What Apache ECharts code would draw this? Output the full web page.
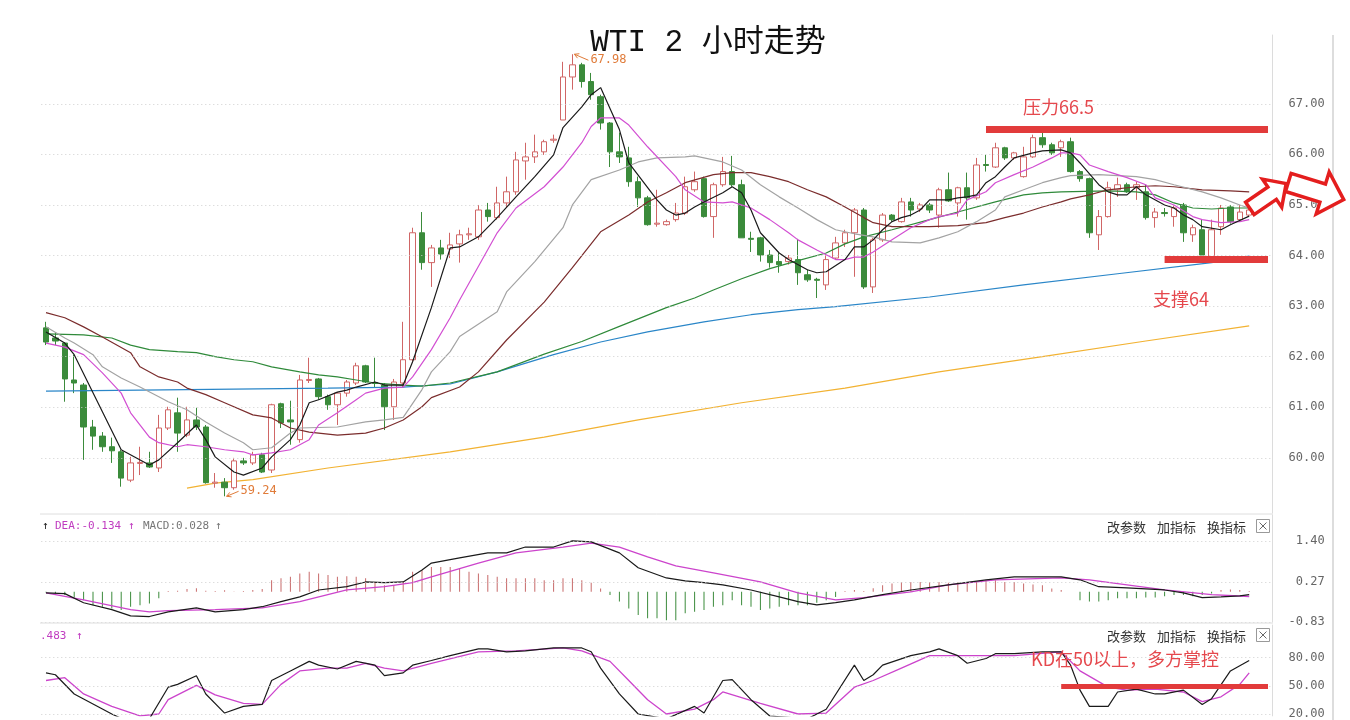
<!DOCTYPE html>
<html><head><meta charset="utf-8">
<script src="https://cdn.jsdelivr.net/npm/echarts@6.0.0/dist/echarts.min.js"></script>
<style>html,body{margin:0;padding:0;background:#fff}#c{width:1350px;height:720px}</style>
</head><body><div id="c"></div>
<script>
const categories = Array.from({length: 131}, (_, i) => 'c' + i);
// [open, close, low, high]
const candles = [
[62.57,62.29,62.23,62.69],[62.37,62.31,62.23,62.47],[62.27,61.56,61.11,62.29],[61.54,61.48,61.28,62.04],[61.44,60.61,59.96,61.48],
[60.61,60.43,60.16,60.75],[60.43,60.22,60.12,60.51],[60.22,60.14,59.90,60.40],[60.12,59.60,59.43,60.16],[59.56,59.90,59.52,60.02],
[59.89,59.91,59.66,60.22],[59.90,59.82,59.80,60.12],[59.80,60.59,59.72,60.85],[60.59,60.95,60.55,61.01],[60.89,60.49,60.12,61.19],
[60.45,60.75,60.41,61.01],[60.75,60.61,60.55,60.99],[60.61,59.51,59.49,60.65],[59.50,59.52,59.41,59.70],[59.52,59.41,59.24,59.60],
[59.41,59.94,59.37,60.00],[59.94,59.90,59.86,60.00],[59.90,60.06,59.86,60.12],[60.06,59.72,59.70,60.10],[59.76,61.05,59.70,61.07],
[61.07,60.69,60.59,61.09],[60.75,60.71,60.26,61.13],[60.36,61.54,60.30,61.64],[61.53,61.55,61.48,61.98],[61.56,61.21,61.15,61.58],
[61.21,61.05,60.95,61.25],[61.05,61.28,60.65,61.30],[61.28,61.50,61.21,61.54],[61.48,61.82,61.44,61.88],[61.82,61.50,61.48,61.84],
[61.49,61.47,61.40,61.98],[61.44,61.01,60.55,61.48],[61.01,61.50,60.75,61.56],[61.48,61.94,61.40,62.69],[61.94,64.45,61.90,64.55],
[64.45,63.86,63.72,64.86],[63.86,64.15,63.38,64.21],[64.15,64.03,63.92,64.31],[64.13,64.21,63.95,64.45],[64.23,64.41,63.86,64.51],
[64.41,64.43,64.31,64.55],[64.37,64.90,64.31,65.00],[64.90,64.77,64.67,65.04],[64.75,65.04,64.71,65.36],[65.04,65.26,64.96,65.56],
[65.26,65.89,65.20,66.05],[65.87,65.95,65.50,66.23],[65.95,66.05,65.83,66.39],[66.05,66.25,65.99,66.29],[66.28,66.30,66.23,66.39],
[66.68,67.53,66.68,67.83],[67.53,67.77,67.28,67.98],[67.77,67.44,67.32,67.81],[67.44,67.18,67.08,67.61],[67.14,66.62,66.49,67.18],
[66.62,66.05,65.75,66.64],[66.05,65.95,65.83,66.43],[65.93,65.46,65.36,66.15],[65.46,65.14,64.96,65.56],[65.14,64.61,64.59,65.18],
[64.62,64.64,64.57,65.30],[64.61,64.67,64.59,64.71],[64.71,64.84,64.67,65.04],[64.84,65.36,64.80,65.56],[65.30,65.46,65.26,65.66],
[65.52,64.77,64.75,65.56],[64.77,65.40,64.35,65.44],[65.40,65.66,65.36,65.95],[65.66,65.40,65.36,65.97],[65.40,64.35,64.35,65.50],
[64.34,64.32,64.07,64.47],[64.35,64.01,63.88,64.37],[64.01,63.86,63.76,64.11],[63.88,63.82,63.66,64.05],[63.88,63.95,63.82,64.01],
[63.92,63.66,63.42,64.33],[63.62,63.52,63.48,63.72],[63.53,63.51,63.16,63.56],[63.42,63.92,63.32,64.03],[63.95,64.25,63.92,64.37],
[64.25,64.45,64.17,64.51],[64.45,64.90,63.58,64.94],[64.90,63.38,63.34,64.94],[63.38,64.31,63.26,64.35],[64.31,64.80,64.27,64.84],
[64.80,64.71,64.67,64.82],[64.67,65.06,64.65,65.14],[65.06,64.90,64.77,65.14],[64.92,65.00,64.86,65.04],[65.00,64.90,64.84,65.04],
[64.80,65.30,64.55,65.34],[65.30,65.08,65.06,65.64],[65.04,65.34,64.77,65.36],[65.34,65.14,64.71,65.64],[65.14,65.79,65.10,65.93],
[65.80,65.78,65.66,65.99],[65.75,66.13,65.73,66.23],[66.13,65.93,65.89,66.15],[65.93,66.03,65.89,66.05],[65.56,65.95,65.54,66.15],
[65.95,66.33,65.93,66.39],[66.33,66.19,66.13,66.45],[66.19,66.03,65.99,66.23],[66.13,66.25,65.95,66.29],[66.25,65.66,65.64,66.33],
[65.66,65.52,65.46,65.69],[65.52,64.45,64.35,65.54],[64.41,64.77,64.11,64.90],[64.77,65.34,64.75,65.46],[65.30,65.40,65.16,65.54],
[65.40,65.26,65.24,65.44],[65.34,65.40,65.10,65.46],[65.26,64.75,64.71,65.40],[64.75,64.86,64.55,64.94],[64.85,64.83,64.77,64.94],
[64.77,64.94,64.57,65.00],[65.00,64.45,64.27,65.04],[64.41,64.55,64.27,64.61],[64.51,64.01,63.95,64.71],[63.97,64.51,63.88,64.71],
[64.57,64.94,64.41,65.00],[64.96,64.67,64.63,65.00],[64.71,64.86,64.67,65.00],[64.80,64.90,64.77,65.06]
];
const ma5 = [[0,62.49],[2,62.27],[3,62.04],[8,60.16],[11,59.86],[12,59.96],[14,60.30],[16,60.65],[17,60.36],[18,60.02],[20,59.72],[21,59.66],[23,59.80],[24,60.02],[26,60.36],[27,60.65],[28,61.09],[29,61.15],[31,61.30],[32,61.34],[33,61.40],[35,61.50],[36,61.44],[38,61.44],[39,61.90],[41,62.97],[43,64.15],[44,64.17],[46,64.37],[48,64.75],[50,65.16],[52,65.56],[54,65.99],[55,66.53],[57,66.94],[58,67.18],[59,67.32],[61,66.49],[62,65.83],[65,65.10],[66,64.90],[67,64.80],[68,64.84],[69,64.96],[70,65.06],[72,65.24],[73,65.36],[74,65.24],[75,64.90],[76,64.45],[78,64.05],[79,63.92],[81,63.72],[82,63.66],[83,63.68],[85,63.92],[86,64.17],[87,64.17],[88,64.31],[89,64.51],[90,64.67],[91,64.75],[92,64.80],[93,64.90],[94,65.10],[96,65.10],[97,65.14],[98,65.16],[99,65.20],[100,65.44],[101,65.56],[102,65.75],[103,65.93],[105,66.03],[106,66.07],[108,66.09],[109,66.03],[110,65.83],[112,65.40],[113,65.26],[114,65.20],[115,65.20],[116,65.36],[117,65.20],[119,65.00],[120,64.94],[121,64.80],[122,64.71],[123,64.57],[125,64.51],[126,64.61],[128,64.78]];
const ma10 = [[0,62.27],[1,62.23],[2,62.19],[4,62.04],[6,61.68],[8,61.28],[9,60.89],[11,60.41],[12,60.30],[14,60.22],[15,60.26],[17,60.22],[19,60.16],[21,60.12],[22,60.06],[24,60.10],[26,60.16],[28,60.36],[29,60.65],[31,60.89],[33,61.15],[34,61.28],[36,61.38],[38,61.40],[39,61.60],[41,62.14],[43,62.77],[44,63.12],[48,64.45],[50,64.94],[53,65.36],[55,65.75],[57,66.23],[58,66.55],[59,66.72],[61,66.72],[62,66.58],[64,66.15],[67,65.56],[68,65.30],[70,65.06],[72,65.04],[73,65.06],[75,64.94],[77,64.71],[79,64.45],[80,64.31],[82,64.11],[84,63.92],[85,63.92],[86,63.97],[87,63.97],[88,64.07],[90,64.31],[92,64.55],[94,64.71],[95,64.77],[97,64.84],[98,65.10],[100,65.26],[101,65.44],[103,65.60],[105,65.75],[107,65.93],[108,66.03],[109,66.03],[110,65.99],[111,65.79],[113,65.66],[115,65.54],[117,65.40],[118,65.14],[120,65.00],[122,64.77],[123,64.71],[125,64.65],[127,64.67],[128,64.71]];
const ma20 = [[0,62.59],[2,62.37],[3,62.27],[5,62.04],[6,61.80],[8,61.58],[10,61.40],[12,61.21],[13,61.11],[15,60.95],[17,60.71],[19,60.49],[21,60.30],[22,60.16],[24,60.20],[26,60.49],[27,60.59],[31,60.61],[34,60.71],[36,60.75],[38,60.80],[40,61.35],[41,61.70],[43,62.10],[44,62.40],[48,62.89],[49,63.28],[52,63.88],[55,64.55],[56,65.00],[58,65.50],[61,65.69],[63,65.85],[65,65.93],[68,65.95],[69,65.97],[72,65.85],[74,65.69],[76,65.40],[78,65.16],[80,64.94],[82,64.71],[84,64.51],[86,64.43],[88,64.37],[90,64.27],[93,64.25],[95,64.35],[97,64.47],[99,64.67],[101,64.90],[102,65.16],[104,65.30],[106,65.44],[108,65.54],[109,65.58],[112,65.60],[116,65.56],[118,65.50],[120,65.40],[123,65.26],[125,65.14],[127,65.00],[128,64.94]];
const ma30 = [[0,62.87],[2,62.77],[4,62.59],[6,62.39],[9,62.08],[10,61.80],[12,61.60],[14,61.50],[15,61.38],[17,61.25],[19,61.09],[22,60.85],[24,60.79],[26,60.59],[28,60.51],[31,60.45],[34,60.49],[36,60.59],[38,60.75],[40,61.01],[41,61.19],[44,61.40],[46,61.70],[49,62.33],[53,63.08],[56,63.76],[59,64.47],[62,64.80],[64,65.06],[66,65.24],[68,65.44],[71,65.60],[73,65.64],[75,65.64],[77,65.56],[79,65.46],[81,65.30],[83,65.16],[85,64.96],[87,64.75],[88,64.65],[90,64.57],[94,64.57],[97,64.59],[100,64.65],[102,64.75],[104,64.84],[106,64.96],[108,65.06],[109,65.12],[111,65.20],[113,65.30],[116,65.36],[118,65.38],[120,65.36],[123,65.30],[126,65.28],[128,65.26]];
const ma60 = [[0,62.45],[4,62.43],[7,62.37],[9,62.23],[11,62.14],[14,62.10],[16,62.08],[18,62.00],[20,61.94],[22,61.90],[24,61.80],[27,61.70],[29,61.64],[31,61.60],[33,61.54],[35,61.48],[38,61.44],[40,61.42],[43,61.48],[48,61.70],[53,62.05],[57,62.30],[61,62.60],[66,62.97],[69,63.16],[71,63.32],[74,63.54],[77,63.74],[80,63.90],[83,64.05],[85,64.23],[87,64.37],[90,64.51],[94,64.71],[97,64.86],[101,65.06],[104,65.20],[106,65.24],[108,65.26],[113,65.28],[116,65.26],[118,65.20],[120,65.04],[122,64.94],[124,64.92],[126,64.94],[128,64.94]];
const ma120 = [[0,61.32],[10,61.34],[20,61.36],[30,61.38],[38,61.40],[43,61.46],[48,61.70],[54,62.04],[59,62.29],[64,62.49],[70,62.69],[75,62.83],[80,62.93],[84,62.99],[94,63.18],[104,63.42],[114,63.64],[124,63.86],[128,63.99]];
const ma250 = [[15,59.40],[18,59.50],[22,59.57],[30,59.80],[43,60.12],[53,60.41],[63,60.75],[74,61.09],[85,61.38],[95,61.70],[106,62.00],[117,62.31],[128,62.61]];
const macdHist = [
-0.02,-0.05,-0.09,-0.16,-0.23,-0.37,-0.41,-0.46,-0.50,-0.41,
-0.37,-0.32,-0.18,0.02,0.03,0.08,0.10,0.03,0.02,0.04,
0.01,0.02,0.05,0.08,0.32,0.37,0.41,0.50,0.55,0.50,
0.46,0.41,0.43,0.41,0.37,0.27,0.18,0.18,0.27,0.55,
0.59,0.68,0.68,0.68,0.64,0.55,0.50,0.46,0.41,0.37,
0.37,0.37,0.37,0.32,0.32,0.37,0.37,0.32,0.25,0.09,
-0.09,-0.27,-0.46,-0.64,-0.73,-0.73,-0.78,-0.78,-0.59,-0.55,
-0.50,-0.41,-0.37,-0.23,-0.37,-0.41,-0.50,-0.46,-0.41,-0.37,
-0.37,-0.37,-0.30,-0.23,-0.14,0.02,0.05,0.02,0.10,0.18,
0.23,0.27,0.27,0.27,0.27,0.27,0.25,0.27,0.27,0.27,
0.32,0.32,0.27,0.27,0.23,0.20,0.18,0.09,0.05,0.00,
-0.23,-0.27,-0.27,-0.23,-0.18,-0.18,-0.18,-0.16,-0.16,-0.12,
-0.09,-0.09,-0.12,-0.09,-0.05,0.05,0.06,0.05,0.02];
const dif = [[0,-0.03],[2,-0.05],[4,-0.30],[7,-0.49],[9,-0.66],[11,-0.68],[13,-0.55],[16,-0.44],[18,-0.55],[21,-0.49],[23,-0.41],[25,-0.27],[27,-0.14],[29,0.05],[32,0.14],[34,0.27],[36,0.25],[38,0.27],[40,0.60],[41,0.79],[44,0.93],[47,1.07],[49,1.07],[51,1.23],[54,1.23],[56,1.40],[58,1.37],[61,1.07],[63,0.66],[66,0.38],[68,0.30],[70,0.25],[72,0.19],[75,0.05],[78,-0.14],[80,-0.27],[82,-0.36],[84,-0.30],[86,-0.22],[89,-0.08],[92,0.05],[96,0.19],[100,0.33],[103,0.41],[108,0.41],[110,0.33],[112,0.14],[115,0.11],[119,0.05],[121,-0.03],[123,-0.16],[125,-0.14],[127,-0.11],[128,-0.08]];
const dea = [[0,-0.03],[4,-0.22],[9,-0.49],[11,-0.55],[13,-0.52],[18,-0.49],[23,-0.44],[27,-0.27],[32,0.05],[36,0.14],[39,0.25],[41,0.41],[46,0.79],[50,1.07],[55,1.23],[58,1.34],[61,1.23],[64,0.96],[67,0.71],[71,0.52],[76,0.27],[80,-0.03],[84,-0.22],[87,-0.16],[92,0.00],[96,0.19],[101,0.33],[108,0.38],[111,0.33],[115,0.19],[119,0.05],[124,-0.08],[128,-0.13]];
const kLine = [[0,63.7],[1,61.7],[3,41.3],[7,20.0],[9,10.8],[11,14.9],[13,48.5],[14,51.5],[16,60.7],[17,41.3],[19,21.0],[21,28.1],[23,30.2],[24,55.6],[26,65.8],[28,75.9],[29,71.9],[31,67.8],[33,75.9],[35,71.9],[36,60.7],[38,63.7],[39,71.9],[41,76.9],[43,82.0],[46,89.2],[47,89.2],[49,86.1],[51,87.1],[54,90.2],[57,90.2],[58,86.1],[59,68.8],[61,41.3],[63,20.0],[66,14.9],[69,28.1],[70,21.0],[72,55.6],[73,56.6],[75,35.2],[77,17.9],[81,14.9],[83,25.1],[86,71.9],[87,55.6],[88,61.7],[89,71.9],[92,82.0],[94,86.1],[95,89.2],[97,82.0],[98,73.9],[100,79.0],[101,84.1],[103,84.1],[106,86.1],[108,86.1],[109,71.9],[110,45.4],[111,28.1],[113,28.1],[114,43.4],[116,46.4],[118,41.3],[119,41.3],[121,45.4],[123,30.2],[124,36.3],[126,65.8],[128,76.9]];
const dLine = [[0,55.6],[2,58.6],[4,41.3],[7,28.1],[10,17.9],[12,20.0],[13,35.2],[16,50.5],[18,40.3],[21,31.2],[23,30.2],[25,51.5],[27,65.8],[30,68.8],[32,68.8],[34,73.9],[36,68.8],[38,65.8],[41,73.9],[46,86.1],[50,87.1],[55,90.2],[57,87.1],[60,75.9],[62,55.6],[64,35.2],[66,20.0],[69,25.1],[71,35.2],[72,43.4],[76,31.2],[80,20.0],[83,21.0],[86,48.5],[88,55.6],[91,68.8],[94,82.0],[99,82.0],[103,82.0],[108,86.1],[110,65.8],[113,48.5],[115,45.4],[118,46.4],[121,43.4],[123,33.2],[125,38.3],[127,51.5],[128,63.7]];
const priceTicks = [60, 61, 62, 63, 64, 65, 66, 67];
const macdTicks = [-0.83, 0.27, 1.40];
const kdTicks = [20, 50, 80];
const resistance = 66.5, support = 63.92, kdLevel = 50;
const highMark = {idx: 56, value: 67.98}, lowMark = {idx: 19, value: 59.24};

const chart = echarts.init(document.getElementById('c'), null, {renderer: 'canvas'});
const GL = 41.3, GW = 1231.4;
const mono = '"DejaVu Sans Mono", monospace';
const cjk = '"Noto Sans CJK SC", sans-serif';
const RED = '#e23b3b';
function xAx(i) { return {type: 'category', gridIndex: i, data: categories, axisLine: {show: false}, axisTick: {show: false}, axisLabel: {show: false}, splitLine: {show: false}}; }
function yAx(i, min, max, ticks) {
  return {type: 'value', gridIndex: i, position: 'right', min, max, scale: true,
    axisLine: {show: true, lineStyle: {color: '#dcdcdc'}}, axisTick: {show: false}, splitLine: {show: false},
    axisLabel: {customValues: ticks, formatter: v => Number(v).toFixed(2), align: 'right', margin: 52, color: '#666', fontFamily: mono, fontSize: 12}};
}
function grids(ticks) {
  return {silent: true, symbol: ['none', 'none'], label: {show: false}, lineStyle: {color: '#cfcfcf', type: [1, 3], width: 1}, data: ticks.map(v => ({yAxis: v}))};
}
function ma(name, data, color, z) {
  return {name, type: 'line', xAxisIndex: 0, yAxisIndex: 0, data, showSymbol: false, symbol: 'none', z: z || 4, lineStyle: {color, width: 1.2}};
}
const orangeSeries = ma('MA250', ma250, '#f2b232', 2);
orangeSeries.markLine = grids(priceTicks);
const option = {
  animation: false,
  backgroundColor: '#fff',
  grid: [
    {left: GL, width: GW, top: 35, height: 478},
    {left: GL, width: GW, top: 515, height: 107},
    {left: GL, width: GW, top: 625, height: 95}
  ],
  xAxis: [xAx(0), xAx(1), xAx(2)],
  yAxis: [yAx(0, 58.91, 68.36, priceTicks), yAx(1, -0.83, 2.11, macdTicks), yAx(2, 18, 114.6, kdTicks)],
  series: [
    orangeSeries,
    ma('MA120', ma120, '#2a86c8'),
    ma('MA60', ma60, '#2f8a3a'),
    ma('MA30', ma30, '#7b2d2d'),
    ma('MA20', ma20, '#a3a3a3'),
    {type: 'candlestick', xAxisIndex: 0, yAxisIndex: 0, data: candles, barWidth: 6, z: 3,
      itemStyle: {color: '#ffffff', color0: '#3b8b3b', borderColor: '#d06666', borderColor0: '#3b8b3b', borderWidth: 1},
      markLine: {silent: true, symbol: ['none', 'none'], label: {show: false}, lineStyle: {color: RED, width: 7, type: 'solid'},
        data: [[{coord: [100, resistance]}, {coord: [130, resistance]}], [{coord: [119, support]}, {coord: [130, support]}]]}},
    ma('MA10', ma10, '#d24fd2', 5),
    ma('MA5', ma5, '#1a1a1a', 6),
    {type: 'bar', xAxisIndex: 1, yAxisIndex: 1, data: macdHist, barWidth: 1, z: 2,
      itemStyle: {color: p => p.value >= 0 ? '#c86a6a' : '#3b8b3b'}, markLine: grids(macdTicks)},
    {type: 'line', xAxisIndex: 1, yAxisIndex: 1, data: dea, showSymbol: false, symbol: 'none', lineStyle: {color: '#cc44cc', width: 1.3}},
    {type: 'line', xAxisIndex: 1, yAxisIndex: 1, data: dif, showSymbol: false, symbol: 'none', lineStyle: {color: '#1a1a1a', width: 1.2}},
    {type: 'line', xAxisIndex: 2, yAxisIndex: 2, data: dLine, showSymbol: false, symbol: 'none', lineStyle: {color: '#cc44cc', width: 1.3}, markLine: grids(kdTicks)},
    {type: 'line', xAxisIndex: 2, yAxisIndex: 2, data: kLine, showSymbol: false, symbol: 'none', lineStyle: {color: '#1a1a1a', width: 1.2},
      markLine: {silent: true, symbol: ['none', 'none'], label: {show: false}, lineStyle: {color: RED, width: 5, type: 'solid'},
        data: [[{coord: [108, kdLevel]}, {coord: [130, kdLevel]}]]}}
  ]
};
chart.setOption(option);

function txt(x, y, text, font, fill, align) {
  return {type: 'text', x, y, z: 50, style: {text, font, fill, align: align || 'left', verticalAlign: 'middle'}};
}
function line(x1, y1, x2, y2, stroke, w) {
  return {type: 'line', z: 40, shape: {x1, y1, x2, y2}, style: {stroke, lineWidth: w || 1}};
}
function arrow(cx, cy, L, w, H, h, rot) {
  const pts = [[-L/2,-w/2],[L/2-h,-w/2],[L/2-h,-H/2],[L/2,0],[L/2-h,H/2],[L/2-h,w/2],[-L/2,w/2]];
  return {type: 'polygon', x: cx, y: cy, rotation: rot, z: 60, shape: {points: pts}, style: {fill: '#fff', stroke: '#e41e1e', lineWidth: 3.5, lineJoin: 'miter'}};
}
function pointer(p, dx, dy, label) {
  const c = '#e07b39';
  const tip = [p[0] + 2 * Math.sign(dx), p[1]];
  const end = [p[0] + dx, p[1] + dy];
  const ang = Math.atan2(end[1] - tip[1], end[0] - tip[0]);
  const a1 = [tip[0] + 5 * Math.cos(ang + 0.5), tip[1] + 5 * Math.sin(ang + 0.5)];
  const a2 = [tip[0] + 5 * Math.cos(ang - 0.5), tip[1] + 5 * Math.sin(ang - 0.5)];
  return [
    line(tip[0], tip[1], end[0], end[1], c, 1),
    {type: 'polyline', z: 40, shape: {points: [a1, tip, a2]}, style: {stroke: c, lineWidth: 1, fill: null}},
    txt(end[0] + 2, end[1], label, '12px ' + mono, c)
  ];
}
const ph = chart.convertToPixel({xAxisIndex: 0, yAxisIndex: 0}, [highMark.idx, highMark.value]);
const pl = chart.convertToPixel({xAxisIndex: 0, yAxisIndex: 0}, [lowMark.idx, lowMark.value]);
function buttons(y) {
  return [
    txt(1107, y, '改参数', '13px ' + cjk, '#333'),
    txt(1157, y, '加指标', '13px ' + cjk, '#333'),
    txt(1207, y, '换指标', '13px ' + cjk, '#333'),
    {type: 'rect', z: 40, shape: {x: 1256.5, y: y - 7.5, width: 13, height: 13}, style: {fill: '#fff', stroke: '#999', lineWidth: 1}},
    line(1259.5, y - 4.5, 1266.5, y + 2.5, '#666', 1),
    line(1266.5, y - 4.5, 1259.5, y + 2.5, '#666', 1)
  ];
}
const graphic = [
  line(40, 514, 1273, 514, '#dedede', 1),
  line(40, 623, 1273, 623, '#dedede', 1),
  line(1333, 35, 1333, 720, '#dddddd', 2),
  txt(708, 43, 'WTI 2 小时走势', '31px "Liberation Mono", "Noto Sans CJK SC", monospace', '#111', 'center'),
  txt(1023, 107, '压力66.5', '18px ' + cjk, '#e5484d'),
  txt(1153, 299, '支撑64', '18px ' + cjk, '#e5484d'),
  txt(1031, 659, 'KD在50以上，多方掌控', '18px ' + cjk, '#e5484d'),
  txt(42, 526, '↑', '11px ' + mono, '#222'),
  txt(55, 526, 'DEA:-0.134', '11px ' + mono, '#c03cc0'),
  txt(128, 526, '↑', '11px ' + mono, '#c03cc0'),
  txt(143, 526, 'MACD:0.028', '11px ' + mono, '#777'),
  txt(215, 526, '↑', '11px ' + mono, '#777'),
  txt(40, 636, '.483', '11px ' + mono, '#c03cc0'),
  txt(76, 636, '↑', '11px ' + mono, '#c03cc0'),
  ...buttons(527),
  ...buttons(636),
  ...pointer(ph, 16, 6, highMark.value.toFixed(2)),
  ...pointer(pl, 14, -5, lowMark.value.toFixed(2)),
  arrow(1268, 196, 44, 15, 34, 17, 0.6),
  arrow(1316, 191, 58, 19, 44, 22, -0.3)
];
chart.setOption({graphic});
</script></body></html>
